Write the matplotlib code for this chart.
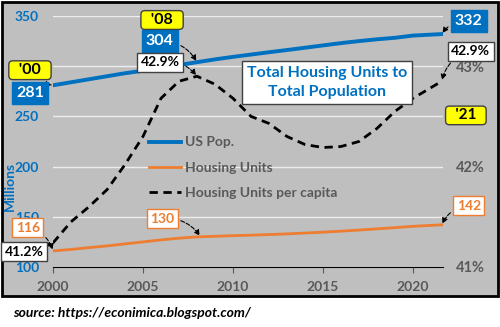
import numpy as np
import matplotlib.pyplot as plt
from matplotlib.patches import Rectangle

plt.rcParams['font.family'] = ['Lato', 'DejaVu Sans']

# data
years = [2000, 2001, 2002, 2003, 2004, 2005, 2006, 2007, 2008, 2009, 2010,
         2011, 2012, 2013, 2014, 2015, 2016, 2017, 2018, 2019, 2020, 2021.6]
us_pop = [281, 284, 287, 290, 293, 295.5, 298.4, 301.2, 304, 306.8, 309.3,
          311.6, 313.9, 316.1, 318.4, 320.7, 323, 325, 326.8, 328.3, 330.5, 332]
housing = [116, 117.5, 119.3, 121, 123, 125, 127, 128.7, 130, 130.6, 131.2,
           131.7, 132.3, 133, 133.8, 134.7, 135.7, 136.8, 138, 139.2, 140.5, 142]
per_capita = [41.24, 41.45, 41.6, 41.77, 42.02, 42.3, 42.68, 42.85, 42.9, 42.82, 42.68,
              42.5, 42.43, 42.3, 42.22, 42.19, 42.2, 42.25, 42.38, 42.55, 42.68, 42.85]
x_ticks = [2000, 2005, 2010, 2015, 2020]
left_ticks = [100, 150, 200, 250, 300, 350]
right_ticks = [41, 42, 43]

BLUE = '#0070C0'
ORANGE = '#ED7D31'
GRAY = '#595959'
PANEL = '#BFBFBF'

fig = plt.figure(figsize=(5, 3.27), dpi=100)
fig.patches.append(Rectangle((2 / 500, 1 - 296 / 327), 496 / 500, 294 / 327,
                             transform=fig.transFigure, facecolor=PANEL,
                             edgecolor='black', lw=2, zorder=-5))

ax = fig.add_axes([53 / 500, 1 - 267 / 327, 390 / 500, 251 / 327])
ax.set_facecolor(PANEL)
ax2 = ax.twinx()

l1, = ax.plot(years, us_pop, color=BLUE, lw=2.8, label='US Pop.')
l2, = ax.plot(years, housing, color=ORANGE, lw=2, label='Housing Units')
l3, = ax2.plot(years, per_capita, color='black', lw=2, ls=(0, (3, 2)),
               label='Housing Units per capita')

ax.set_xlim(2000, 2021.67)
ax.set_ylim(100, 350)
ax2.set_ylim(41, 43.5)
ax.set_xticks(x_ticks)
ax.set_yticks(left_ticks)
ax2.set_yticks(right_ticks)
ax2.set_yticklabels([f'{v}%' for v in right_ticks])

ax.grid(axis='y', color='#EDEDED', lw=1)
ax.set_axisbelow(True)
for s in ['top', 'left', 'right']:
    ax.spines[s].set_visible(False)
for s in ax2.spines.values():
    s.set_visible(False)
ax.spines['bottom'].set_color('black')
ax.tick_params(axis='x', length=4, colors=GRAY, labelsize=10, pad=6)
ax.tick_params(axis='y', length=0, colors=BLUE, labelsize=10, pad=10)
ax2.tick_params(axis='y', length=0, colors=GRAY, labelsize=10.5, pad=9)
for t in ax.get_xticklabels() + ax.get_yticklabels() + ax2.get_yticklabels():
    t.set_fontweight('bold')
ax.set_ylabel('Millions', color=BLUE, fontsize=10, fontweight='bold')
ax.yaxis.set_label_coords(-0.095, 0.32)

ax2.legend(handles=[l1, l2, l3], loc='upper left', bbox_to_anchor=(0.247, 0.52),
           frameon=False, borderaxespad=0, borderpad=0, handlelength=2.3,
           handletextpad=0.3, labelspacing=0.95,
           prop={'size': 10, 'weight': 'bold'}, labelcolor=GRAY)

ax2.text(2015.24, 42.84, 'Total Housing Units to\nTotal Population', color=BLUE,
         fontsize=11.5, fontweight='bold', ha='center', va='center', zorder=10,
         linespacing=1.5,
         bbox=dict(boxstyle='square,pad=0.3', fc='white', ec='#404040', lw=1))


def label(text, xy, xytext, fc, tc, ec, size=10, on=ax, rad=-0.3):
    on.annotate(text, xy=xy, xytext=xytext, textcoords=ax.transData, color=tc,
                fontsize=size, fontweight='bold', ha='center', va='center',
                annotation_clip=False, zorder=12,
                bbox=dict(boxstyle='square,pad=0.25', fc=fc, ec=ec, lw=1),
                arrowprops=dict(arrowstyle='-|>', ls='--', color='black', lw=0.8,
                                mutation_scale=8, shrinkB=1,
                                connectionstyle=f'arc3,rad={rad}'))


def tag(text, xytext, size=11.5):
    ax2.annotate(text, xy=xytext, xycoords=ax.transData, color='black', fontsize=size,
                 fontweight='bold', ha='center', va='center', annotation_clip=False,
                 zorder=12,
                 bbox=dict(boxstyle='round,pad=0.15,rounding_size=0.25', fc='#FFFF00',
                           ec='#404040', lw=1))


tag("  '00  ", (1998.72, 296))
tag("  '08  ", (2006.06, 346))
tag("  '21  ", (2022.94, 251), size=11)

label('281', (2000, us_pop[0]), (1998.72, 273), BLUE, 'white', BLUE, size=11.5)
label('304', (2008, us_pop[8]), (2005.94, 325), BLUE, 'white', BLUE, size=11.5)
label('332', (years[-1], us_pop[-1]), (2023.1, 345), BLUE, 'white', BLUE, size=11.5, rad=0.3)

label('42.9%', (2008, per_capita[8]), (2005.94, 304), 'white', 'black', '#404040', size=10, on=ax2)
label('42.9%', (years[-1], per_capita[-1]), (2023.2, 315), 'white', 'black', '#404040',
      size=10, on=ax2, rad=0.3)
label('41.2%', (2000, per_capita[0]), (1998.4, 115), 'white', 'black', '#404040',
      size=10, on=ax2, rad=0.0)

label('116', (2000, housing[0]), (1998.6, 139), 'white', ORANGE, ORANGE, size=10)
label('130', (2008.2, housing[8]), (2006.06, 148), 'white', ORANGE, ORANGE, size=10)
label('142', (years[-1], housing[-1]), (2023.1, 161), 'white', ORANGE, ORANGE, size=10, rad=0.3)

fig.text(13 / 500, 1 - 313 / 327, 'source: https://econimica.blogspot.com/',
         fontsize=10, fontweight='bold', fontstyle='italic', va='center')

fig.savefig('out.png', dpi=100)
